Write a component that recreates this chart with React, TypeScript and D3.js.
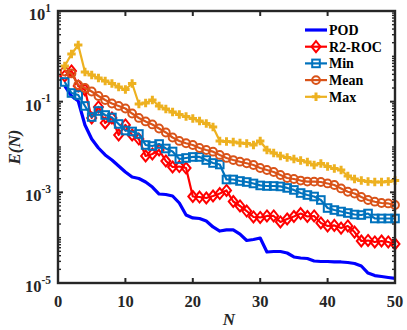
import React from 'react';
import * as d3 from 'd3';

const modes = Array.from({ length: 50 }, (_, i) => i + 1);

const pod = [0.222, 0.133, 0.1035, 0.0306, 0.015, 0.0095, 0.00667, 0.00516, 0.00381, 0.00281,
  0.00218, 0.00202, 0.00169, 0.00131, 0.000918, 0.000895, 0.00083, 0.000582, 0.000316, 0.000272,
  0.000265, 0.000233, 0.000172, 0.00014, 0.000148, 0.000148, 0.00012, 8.67e-5, 9.11e-5, 9.83e-5,
  4.83e-5, 4.95e-5, 4.95e-5, 4.59e-5, 3.75e-5, 3.56e-5, 3.47e-5, 3.06e-5, 2.98e-5, 2.98e-5,
  2.91e-5, 2.91e-5, 2.83e-5, 2.69e-5, 2.37e-5, 1.66e-5, 1.46e-5, 1.39e-5, 1.32e-5, 1.26e-5];

const r2roc = [0.3685, 0.475, 0.222, 0.181, 0.0437, 0.0764, 0.0339, 0.0437, 0.0184, 0.0306,
  0.0184, 0.015, 0.00634, 0.00701, 0.00859, 0.00491, 0.00362, 0.00371, 0.00344, 0.000809,
  0.000788, 0.00075, 0.00083, 0.000942, 0.0011, 0.000628, 0.0005, 0.000387, 0.000286, 0.000279,
  0.000301, 0.000301, 0.000222, 0.000258, 0.000293, 0.000341, 0.000293, 0.000301, 0.000211, 0.000181,
  0.000186, 0.000163, 0.000181, 0.000133, 8.44e-5, 8.67e-5, 8.03e-5, 8.44e-5, 8.03e-5, 7.25e-5];

const minErr = [0.272, 0.1554, 0.14, 0.0804, 0.0459, 0.0622, 0.0508, 0.0448, 0.0322, 0.0231,
  0.022, 0.0194, 0.01107, 0.01052, 0.01164, 0.00927, 0.00796, 0.00544, 0.00573, 0.00603,
  0.00603, 0.00516, 0.00444, 0.00411, 0.00192, 0.00192, 0.00178, 0.00169, 0.00157, 0.00142,
  0.00138, 0.00138, 0.00135, 0.00125, 0.00113, 0.000966, 0.000873, 0.000809, 0.000678, 0.000451,
  0.000407, 0.000377, 0.00035, 0.000324, 0.000316, 0.000341, 0.000265, 0.000265, 0.000265, 0.000265];

const meanErr = [0.4634, 0.419, 0.2333, 0.2004, 0.1678, 0.1334, 0.1089, 0.0912, 0.0804, 0.0707,
  0.0548, 0.0437, 0.0366, 0.0314, 0.0256, 0.0209, 0.0162, 0.0136, 0.0121, 0.01107,
  0.0095, 0.00859, 0.00788, 0.00667, 0.00573, 0.00516, 0.00474, 0.00438, 0.00401, 0.00344,
  0.00311, 0.00281, 0.00241, 0.00207, 0.00197, 0.00182, 0.00173, 0.00172, 0.00169, 0.00157,
  0.00145, 0.00122, 0.00103, 0.000942, 0.000788, 0.000678, 0.000621, 0.000582, 0.000568, 0.000526];

const maxErr = [0.612, 1.127, 1.78, 0.452, 0.388, 0.333, 0.286, 0.252, 0.211, 0.1856,
  0.252, 0.0889, 0.0935, 0.1089, 0.0804, 0.0689, 0.0592, 0.0521, 0.0471, 0.0426,
  0.0375, 0.033, 0.0276, 0.01357, 0.01323, 0.0129, 0.01225, 0.01195, 0.01107, 0.01357,
  0.00859, 0.00738, 0.00634, 0.00587, 0.00544, 0.00504, 0.00467, 0.00401, 0.00433, 0.00371,
  0.00336, 0.00311, 0.00229, 0.00197, 0.00182, 0.00173, 0.00169, 0.00169, 0.00173, 0.00182];

const xTicks = [0, 10, 20, 30, 40, 50];
const yTickExps = [-5, -3, -1, 1];
const seriesNames = ['POD', 'R2-ROC', 'Min', 'Mean', 'Max'];

const W = 407, H = 330;
const L = 58, R = 395, T = 11, B = 283;
const FONT = '"Liberation Serif", "Times New Roman", serif';

const x = d3.scaleLinear().domain([0, 50]).range([L, R]);
const y = d3.scaleLog().domain([1e-5, 10]).range([B, T]);

type Marker = 'none' | 'diamond' | 'square' | 'circle' | 'plus';
const series: { name: string; data: number[]; color: string; width: number; marker: Marker }[] = [
  { name: seriesNames[0], data: pod, color: '#0000FF', width: 3.2, marker: 'none' },
  { name: seriesNames[1], data: r2roc, color: '#FF0000', width: 2.2, marker: 'diamond' },
  { name: seriesNames[2], data: minErr, color: '#0072BD', width: 2.2, marker: 'square' },
  { name: seriesNames[3], data: meanErr, color: '#D95319', width: 2.2, marker: 'circle' },
  { name: seriesNames[4], data: maxErr, color: '#EDB120', width: 2.2, marker: 'plus' },
];

function MarkerShape({ kind, cx, cy, color }: { kind: Marker; cx: number; cy: number; color: string }) {
  if (kind === 'diamond') {
    return <path d={`M${cx},${cy - 5.5}L${cx + 4.5},${cy}L${cx},${cy + 5.5}L${cx - 4.5},${cy}Z`} fill="none" stroke={color} strokeWidth={2} />;
  }
  if (kind === 'square') {
    return <rect x={cx - 3.8} y={cy - 3.8} width={7.6} height={7.6} fill="none" stroke={color} strokeWidth={2} />;
  }
  if (kind === 'circle') {
    return <circle cx={cx} cy={cy} r={3.9} fill="none" stroke={color} strokeWidth={2} />;
  }
  if (kind === 'plus') {
    return <path d={`M${cx - 4.2},${cy}H${cx + 4.2}M${cx},${cy - 4.2}V${cy + 4.2}`} fill="none" stroke={color} strokeWidth={3} />;
  }
  return null;
}

export default function App() {
  const line = d3.line<number>().x((_, i) => x(modes[i])).y((d) => y(d));

  const minorTicks: number[] = [];
  for (let e = -5; e < 1; e++) {
    for (let k = 1; k <= 9; k++) {
      const v = k * Math.pow(10, e);
      if (k === 1 && yTickExps.includes(e)) continue;
      minorTicks.push(v);
    }
  }

  const legendRows = series.map((s, i) => ({ ...s, yy: 30 + i * 16.7 }));

  return (
    <svg width={W} height={H} style={{ position: 'absolute', left: 0, top: 0, background: '#fff' }} fontFamily={FONT}>
      <rect x={0} y={0} width={W} height={H} fill="#fff" />
      {series.map((s) => (
        <g key={s.name}>
          <path d={line(s.data) || ''} fill="none" stroke={s.color} strokeWidth={s.width} strokeLinejoin="round" />
          {s.marker !== 'none' && s.data.map((d, i) => (
            <MarkerShape key={i} kind={s.marker} cx={x(modes[i])} cy={y(d)} color={s.color} />
          ))}
        </g>
      ))}
      <rect x={L} y={T} width={R - L} height={B - T} fill="none" stroke="#262626" strokeWidth={2.4} />
      {xTicks.map((t) => (
        <g key={t}>
          <line x1={x(t)} x2={x(t)} y1={B} y2={B - 5} stroke="#262626" strokeWidth={2} />
          <line x1={x(t)} x2={x(t)} y1={T} y2={T + 5} stroke="#262626" strokeWidth={2} />
          <text x={x(t)} y={306.5} textAnchor="middle" fontSize={16.5} fontWeight="bold" fill="#262626">{t}</text>
        </g>
      ))}
      {yTickExps.map((e) => {
        const yy = y(Math.pow(10, e));
        return (
          <g key={e}>
            <line x1={L} x2={L + 5} y1={yy} y2={yy} stroke="#262626" strokeWidth={2} />
            <line x1={R} x2={R - 5} y1={yy} y2={yy} stroke="#262626" strokeWidth={2} />
            <text x={51} y={yy + 9} textAnchor="end" fill="#262626" fontWeight="bold">
              <tspan fontSize={16.5}>10</tspan>
              <tspan fontSize={11.5} dy={-8.5}>{e}</tspan>
            </text>
          </g>
        );
      })}
      {minorTicks.map((v, i) => {
        const yy = y(v);
        return (
          <g key={i}>
            <line x1={L} x2={L + 3} y1={yy} y2={yy} stroke="#262626" strokeWidth={1.4} />
            <line x1={R} x2={R - 3} y1={yy} y2={yy} stroke="#262626" strokeWidth={1.4} />
          </g>
        );
      })}
      <text x={229} y={325} textAnchor="middle" fontSize={17} fontStyle="italic" fontWeight="bold" fill="#262626">N</text>
      <text transform={`translate(20,${(T + B) / 2}) rotate(-90)`} textAnchor="middle" fontSize={17} fontStyle="italic" fontWeight="bold" fill="#262626">E(N)</text>
      {legendRows.map((s) => (
        <g key={s.name}>
          <line x1={305} x2={327} y1={s.yy} y2={s.yy} stroke={s.color} strokeWidth={s.width} />
          {s.marker !== 'none' && <MarkerShape kind={s.marker} cx={316} cy={s.yy} color={s.color} />}
          <text x={329} y={s.yy + 5} fontSize={14} fontWeight="bold" fill="#000">{s.name}</text>
        </g>
      ))}
    </svg>
  );
}
